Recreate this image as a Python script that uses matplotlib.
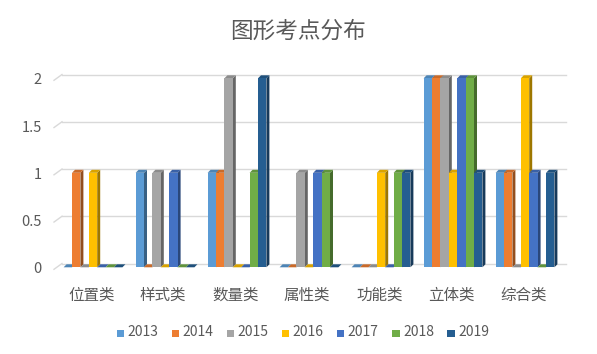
import matplotlib
matplotlib.use("Agg")
import matplotlib.pyplot as plt
from matplotlib.patches import Polygon, Rectangle
import matplotlib.colors as mcolors
import numpy as np

plt.rcParams['font.family'] = ['Noto Sans CJK SC', 'DejaVu Sans']

categories = ['位置类', '样式类', '数量类', '属性类', '功能类', '立体类', '综合类']
series_names = ['2013', '2014', '2015', '2016', '2017', '2018', '2019']
values = {
    '2013': [0, 1, 1, 0, 0, 2, 1],
    '2014': [1, 0, 1, 0, 0, 2, 1],
    '2015': [0, 1, 2, 1, 0, 2, 0],
    '2016': [1, 0, 0, 0, 1, 1, 2],
    '2017': [0, 1, 0, 1, 0, 2, 1],
    '2018': [0, 0, 1, 1, 1, 2, 0],
    '2019': [0, 0, 2, 0, 1, 1, 1],
}
colors = ['#5B9BD5', '#ED7D31', '#A5A5A5', '#FFC000', '#4472C4', '#70AD47', '#255E91']
yticks = [0, 0.5, 1, 1.5, 2]
yticklabels = ['0', '0.5', '1', '1.5', '2']

W, H = 597, 354
fig = plt.figure(figsize=(W / 100, H / 100), dpi=100)
x0px, x1px = 54, 558
y0px, y2px = 267.3, 78.3
ax = fig.add_axes([x0px / W, 1 - y0px / H, (x1px - x0px) / W, (y0px - y2px) / H])
ax.set_xlim(-0.5, len(categories) - 0.5)
ax.set_ylim(0, 2)
ax.axis('off')

upx = (x1px - x0px) / len(categories)  # px per x unit
upy = (y0px - y2px) / 2.0              # px per y unit

grid_c = '#D9D9D9'
gdx = 8 / upx
front_off = -2.0 / upy   # front-left corner lies a bit below
back_off = 3.8 / upy     # back wall lines lie a bit above
xr = (566 - x0px) / upx - 0.5
for t, lab in zip(yticks, yticklabels):
    ax.plot([-0.5, -0.5 + gdx], [t + front_off, t + back_off], color=grid_c, lw=1,
            clip_on=False, zorder=1)
    ax.plot([-0.5 + gdx, xr], [t + back_off, t + back_off], color=grid_c, lw=1,
            clip_on=False, zorder=1)
    ax.text(-0.5 - 12 / upx, t + front_off, lab, ha='right', va='center', fontsize=10.5,
            color='#595959')

n = len(series_names)
bw = 8.4 / upx
shift = 3 / upx
sdx = 3 / upx
sdy = 3 / upy


def shade(c, f):
    r, g, b = mcolors.to_rgb(c)
    return (r * f, g * f, b * f)

for ci in range(len(categories)):
    for si, name in enumerate(series_names):
        v = values[name][ci]
        c = colors[si]
        xl = ci + shift + (si - n / 2) * bw
        xr_ = xl + bw
        z = 3 + si * 0.01
        # side face
        ax.add_patch(Polygon([[xr_, 0], [xr_ + sdx, sdy], [xr_ + sdx, v + sdy], [xr_, v]],
                             closed=True, facecolor=shade(c, 0.62), edgecolor='none',
                             zorder=z, clip_on=False))
        # top face
        ax.add_patch(Polygon([[xl, v], [xl + sdx, v + sdy], [xr_ + sdx, v + sdy], [xr_, v]],
                             closed=True, facecolor=shade(c, 0.85), edgecolor='none',
                             zorder=z, clip_on=False))
        # front face
        if v > 0:
            ax.add_patch(Rectangle((xl, 0), bw, v, facecolor=c, edgecolor='none', zorder=z,
                                   clip_on=False))

for ci, cat in enumerate(categories):
    ax.text(ci + 1.2 / upx, -(295 - y0px) / upy, cat, ha='center', va='center', fontsize=11.2,
            color='#595959')

fig.text(0.5, 1 - 31 / H, '图形考点分布', ha='center', va='center', fontsize=16.3,
         color='#595959')

# legend
lx = 116.5
step = 55.1
for si, name in enumerate(series_names):
    fig.patches.append(Rectangle(((lx + si * step) / W, 1 - 337 / H), 7.5 / W, 7.5 / H,
                                 transform=fig.transFigure, facecolor=colors[si],
                                 edgecolor='none'))
    fig.text((lx + si * step + 11) / W, 1 - 332 / H, name, ha='left', va='center',
             fontsize=10, color='#595959')

fig.savefig('out.png', dpi=100)
